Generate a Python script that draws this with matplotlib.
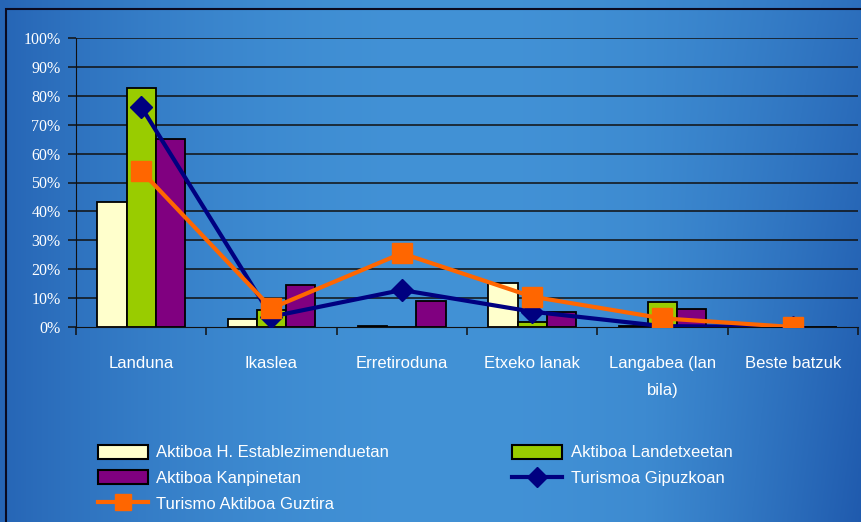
import numpy as np
import matplotlib.pyplot as plt
from matplotlib.patches import Patch, Rectangle
from matplotlib.lines import Line2D

# Data (percent)
categories = ['Landuna', 'Ikaslea', 'Erretiroduna', 'Etxeko lanak',
              'Langabea (lan\nbila)', 'Beste batzuk']
hotel = [43.3, 2.6, 0.4, 15.3, 0.3, 0.0]
landetxe = [82.6, 5.8, 0.0, 1.8, 8.8, 0.0]
kanpin = [64.9, 14.5, 9.0, 5.1, 6.2, 0.0]
gipuzkoa = [76.2, 3.6, 12.8, 5.3, 0.3, 0.0]
guztira = [54.0, 6.5, 25.5, 10.5, 3.0, 0.0]

yticks = np.arange(0, 101, 10)
ytick_labels = [f'{v}%' for v in yticks]

sans = ['Liberation Sans', 'DejaVu Sans']
serif = ['Liberation Serif', 'DejaVu Serif']

fig = plt.figure(figsize=(8.62, 5.22), dpi=100)

# Blue gradient background: dark at the left, light in the middle
bg = fig.add_axes([0, 0, 1, 1], zorder=-10)
gx = np.linspace(0, 1, 400)
gy = np.linspace(0, 1, 250)
X, Y = np.meshgrid(gx, gy)  # Y = 0 at top
t = np.clip(np.sin(np.pi * np.clip(X * 0.85 + 0.05, 0, 1)) ** 0.8, 0, 1)
t = t - 0.35 * np.clip((X - 0.75) / 0.25, 0, 1) * Y
dark = np.array([30, 88, 172]) / 255
light = np.array([66, 146, 214]) / 255
img = dark + (light - dark) * np.clip(t, 0, 1)[..., None]
bg.imshow(img, aspect='auto', extent=[0, 1, 0, 1], origin='upper')
bg.set_axis_off()

# outer frame
fig.add_artist(Rectangle((6 / 862, -0.1), 1.2, 1 - 9 / 522 + 0.1,
                         transform=fig.transFigure, fill=False,
                         edgecolor='#0a0a20', linewidth=1.5))

ax = fig.add_axes([76 / 862, 1 - 327 / 522, 782 / 862, 289 / 522])
ax.set_facecolor('none')

x = np.arange(len(categories))
w = 0.225
kw = dict(edgecolor='black', linewidth=1.3, zorder=3)
ax.bar(x - w, hotel, w, color='#FFFFCC', **kw)
ax.bar(x, landetxe, w, color='#99CC00', **kw)
ax.bar(x + w, kanpin, w, color='#800080', **kw)

ax.plot(x, gipuzkoa, color='#000080', linewidth=3, marker='D',
        markersize=11, zorder=4)
ax.plot(x, guztira, color='#FF6600', linewidth=3, marker='s',
        markersize=14, zorder=5)

ax.set_xlim(-0.5, len(categories) - 0.5)
ax.set_ylim(0, 100)
ax.set_yticks(yticks)
ax.set_yticklabels(ytick_labels, family=serif, fontsize=11.5, color='white')
for v in yticks[1:]:
    ax.axhline(v, color='#111111', linewidth=1.1, zorder=1)

ax.set_xticks(np.arange(-0.5, len(categories), 1))
ax.set_xticklabels([])
ax.set_xticks(x, minor=True)
ax.set_xticklabels(categories, minor=True, family=sans, fontsize=12,
                   color='white', linespacing=2.0)
ax.tick_params(axis='x', which='minor', length=0, pad=21)
ax.tick_params(axis='x', which='major', length=6, color='#111111', width=1.1)
ax.tick_params(axis='y', length=6, color='#111111', width=1.1, pad=5)

for s in ['top', 'right']:
    ax.spines[s].set_visible(False)
ax.spines['left'].set_color('#111111')
ax.spines['bottom'].set_color('#111111')

handles = [
    Patch(facecolor='#FFFFCC', edgecolor='black', linewidth=1.5),
    Patch(facecolor='#800080', edgecolor='black', linewidth=1.5),
    Line2D([], [], color='#FF6600', linewidth=3, marker='s', markersize=12),
    Patch(facecolor='#99CC00', edgecolor='black', linewidth=1.5),
    Line2D([], [], color='#000080', linewidth=3, marker='D', markersize=10),
]
labels = ['Aktiboa H. Establezimenduetan', 'Aktiboa Kanpinetan',
          'Turismo Aktiboa Guztira', 'Aktiboa Landetxeetan',
          'Turismoa Gipuzkoan']
leg = fig.legend(handles, labels, ncol=2, loc='upper left',
                 bbox_to_anchor=(91 / 862, 1 - 438 / 522),
                 borderaxespad=0, borderpad=0.4,
                 frameon=False, prop={'family': sans, 'size': 12},
                 labelcolor='white', handlelength=3.0, handleheight=0.9,
                 handletextpad=0.5, labelspacing=0.6, columnspacing=7.4)

fig.savefig('out.png', dpi=100)
